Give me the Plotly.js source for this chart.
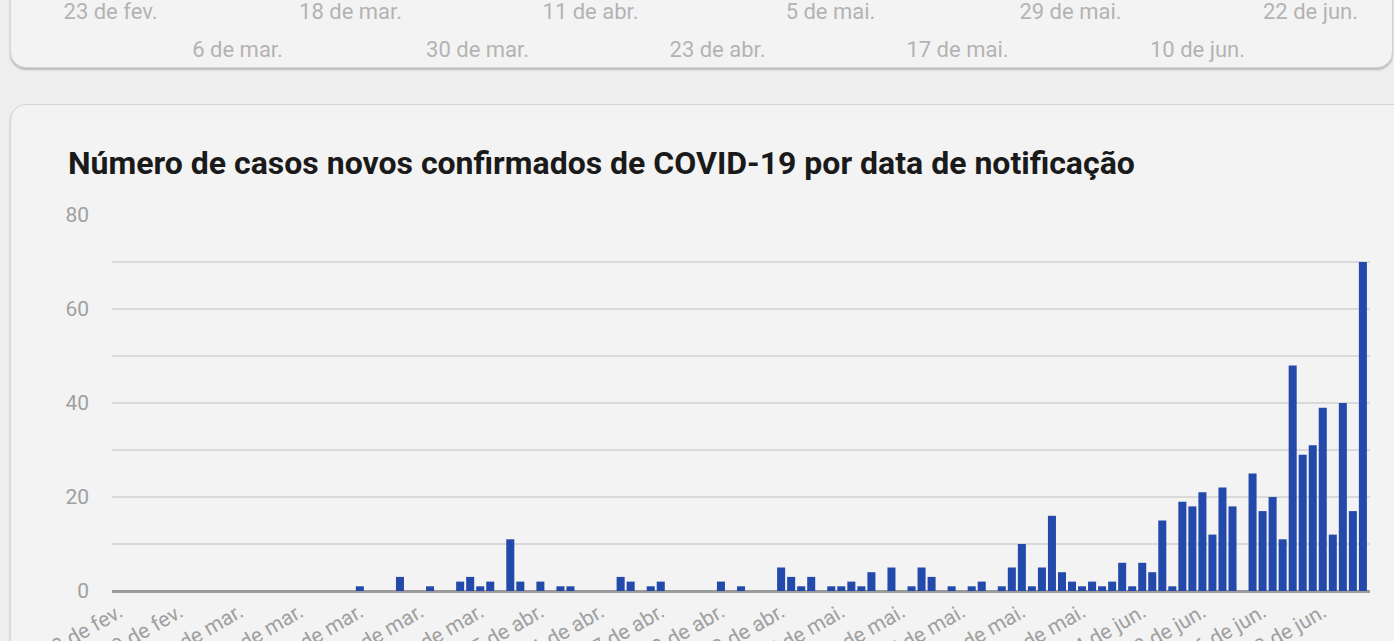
<!DOCTYPE html>
<html>
<head>
<meta charset="utf-8">
<script src="https://cdn.plot.ly/plotly-3.0.1.min.js"></script>
<style>
  html, body { margin:0; padding:0; width:1394px; height:641px; overflow:hidden; background:#eeeeee; font-family: Roboto, sans-serif; }
  .card { position:absolute; background:#f3f3f3; border:1px solid #d4d4d4; border-radius:16px; box-shadow:0 2px 2px rgba(0,0,0,0.22); box-sizing:border-box; }
  #topcard { left:10px; top:-80px; width:1383px; height:148px; }
  #botcard { left:10px; top:104px; width:1420px; height:620px; }
  #top { position:absolute; left:11px; top:-60px; width:1382px; height:127px; }
  #chart { position:absolute; left:11px; top:105px; width:1399px; height:560px; }
</style>
</head>
<body>
<div class="card" id="topcard"></div>
<div class="card" id="botcard"></div>
<div id="top"></div>
<div id="chart"></div>
<script>
// ---- data ----
const dates = [
  "2020-03-18","2020-03-22","2020-03-25","2020-03-28","2020-03-29","2020-03-30","2020-03-31",
  "2020-04-02","2020-04-03","2020-04-05","2020-04-07","2020-04-08","2020-04-13","2020-04-14",
  "2020-04-16","2020-04-17","2020-04-23","2020-04-25","2020-04-29","2020-04-30",
  "2020-05-01","2020-05-02","2020-05-04","2020-05-05","2020-05-06","2020-05-07","2020-05-08",
  "2020-05-10","2020-05-12","2020-05-13","2020-05-14","2020-05-16","2020-05-18","2020-05-19",
  "2020-05-21","2020-05-22","2020-05-23","2020-05-24","2020-05-25","2020-05-26","2020-05-27",
  "2020-05-28","2020-05-29","2020-05-30","2020-05-31",
  "2020-06-01","2020-06-02","2020-06-03","2020-06-04","2020-06-05","2020-06-06","2020-06-07",
  "2020-06-08","2020-06-09","2020-06-10","2020-06-11","2020-06-12","2020-06-13","2020-06-14",
  "2020-06-15","2020-06-16","2020-06-17","2020-06-18","2020-06-19","2020-06-20","2020-06-21",
  "2020-06-22","2020-06-23","2020-06-24","2020-06-25","2020-06-26"
];
const newCases = [
  1,3,1,2,3,1,2,
  11,2,2,1,1,3,2,
  1,2,2,1,5,3,
  1,3,1,1,2,1,4,
  5,1,5,3,1,1,2,
  1,5,10,1,5,16,4,
  2,1,2,1,
  2,6,1,6,4,15,1,
  19,18,21,12,22,18,0,
  25,17,20,11,48,29,31,
  39,12,40,17,70
];
const tickDates = [
  "2020-02-23","2020-02-29","2020-03-06","2020-03-12","2020-03-18","2020-03-24","2020-03-30",
  "2020-04-05","2020-04-11","2020-04-17","2020-04-23","2020-04-29","2020-05-05","2020-05-11",
  "2020-05-17","2020-05-23","2020-05-29","2020-06-04","2020-06-10","2020-06-16","2020-06-22"
];
const tickLabels = [
  "23 de fev.","29 de fev.","6 de mar.","12 de mar.","18 de mar.","24 de mar.","30 de mar.",
  "5 de abr.","11 de abr.","17 de abr.","23 de abr.","29 de abr.","5 de mai.","11 de mai.",
  "17 de mai.","23 de mai.","29 de mai.","4 de jun.","10 de jun.","16 de jun.","22 de jun."
];
const topRow1Dates = ["2020-02-23","2020-03-18","2020-04-11","2020-05-05","2020-05-29","2020-06-22"];
const topRow1Labels = ["23 de fev.","18 de mar.","11 de abr.","5 de mai.","29 de mai.","22 de jun."];
const topRow2Dates = ["2020-03-06","2020-03-30","2020-04-23","2020-05-17","2020-06-10"];
const topRow2Labels = ["6 de mar.","30 de mar.","23 de abr.","17 de mai.","10 de jun."];
const chartTitle = "Número de casos novos confirmados de COVID-19 por data de notificação";

// ---- top card (axis labels of previous chart) ----
Plotly.newPlot("top", [
  {type:"scatter", x:[], y:[], xaxis:"x", yaxis:"y", hoverinfo:"skip", showlegend:false},
  {type:"scatter", x:[], y:[], xaxis:"x2", yaxis:"y", hoverinfo:"skip", showlegend:false}
], {
  width:1382, height:127,
  margin:{l:0, r:0, t:0, b:69},
  paper_bgcolor:"rgba(0,0,0,0)", plot_bgcolor:"rgba(0,0,0,0)",
  showlegend:false,
  xaxis:{type:"date", range:["2020-02-13 01:12","2020-06-30 06:00"], tickmode:"array",
         tickvals:topRow1Dates, ticktext:topRow1Labels, showgrid:false, zeroline:false, showline:false,
         ticks:"", ticklabelstandoff:-2, tickfont:{family:"Roboto", size:22, color:"#b3b3b3"}, fixedrange:true},
  xaxis2:{type:"date", overlaying:"x", side:"bottom", anchor:"y",
          range:["2020-02-12 08:24","2020-06-29 13:12"], tickmode:"array",
          tickvals:topRow2Dates, ticktext:topRow2Labels, showgrid:false, zeroline:false, showline:false,
          ticks:"", ticklabelstandoff:36, tickfont:{family:"Roboto", size:22, color:"#b3b3b3"}, fixedrange:true},
  yaxis:{visible:false, range:[0,1], fixedrange:true}
}, {displayModeBar:false, staticPlot:true});

// ---- main bar chart ----
Plotly.newPlot("chart", [{
  type:"bar",
  x:dates,
  y:newCases,
  marker:{color:"#2349ab"},
  hoverinfo:"x+y"
}], {
  width:1399, height:560,
  margin:{l:101, r:40, t:110, b:74},
  paper_bgcolor:"rgba(0,0,0,0)", plot_bgcolor:"rgba(0,0,0,0)",
  bargap:0.2,
  showlegend:false,
  title:{text:chartTitle, xref:"container", yref:"container", x:57/1399, xanchor:"left",
         y:1-(58/560), yanchor:"middle",
         font:{family:"Roboto", size:32, color:"#1a1a1a", weight:700}},
  xaxis:{type:"date", range:["2020-02-22 07:00","2020-06-26 17:00"], tickmode:"array",
         tickvals:tickDates, ticktext:tickLabels, tickangle:-30, showgrid:false,
         showline:false, zeroline:false, ticks:"", ticklabelstandoff:4,
         tickfont:{family:"Roboto", size:21, color:"#a0a0a0"}},
  yaxis:{range:[0,80], tickvals:[0,20,40,60,80], showgrid:true, gridcolor:"#d9d9d9", gridwidth:1.5,
         minor:{tickvals:[10,30,50,70], showgrid:true, gridcolor:"#d9d9d9", gridwidth:1.5},
         zeroline:true, zerolinecolor:"#9b9b9b", zerolinewidth:3, showline:false, ticks:"",
         ticklabelstandoff:22,
         tickfont:{family:"Roboto", size:21, color:"#a0a0a0"}}
}, {displayModeBar:false});
</script>
</body>
</html>
